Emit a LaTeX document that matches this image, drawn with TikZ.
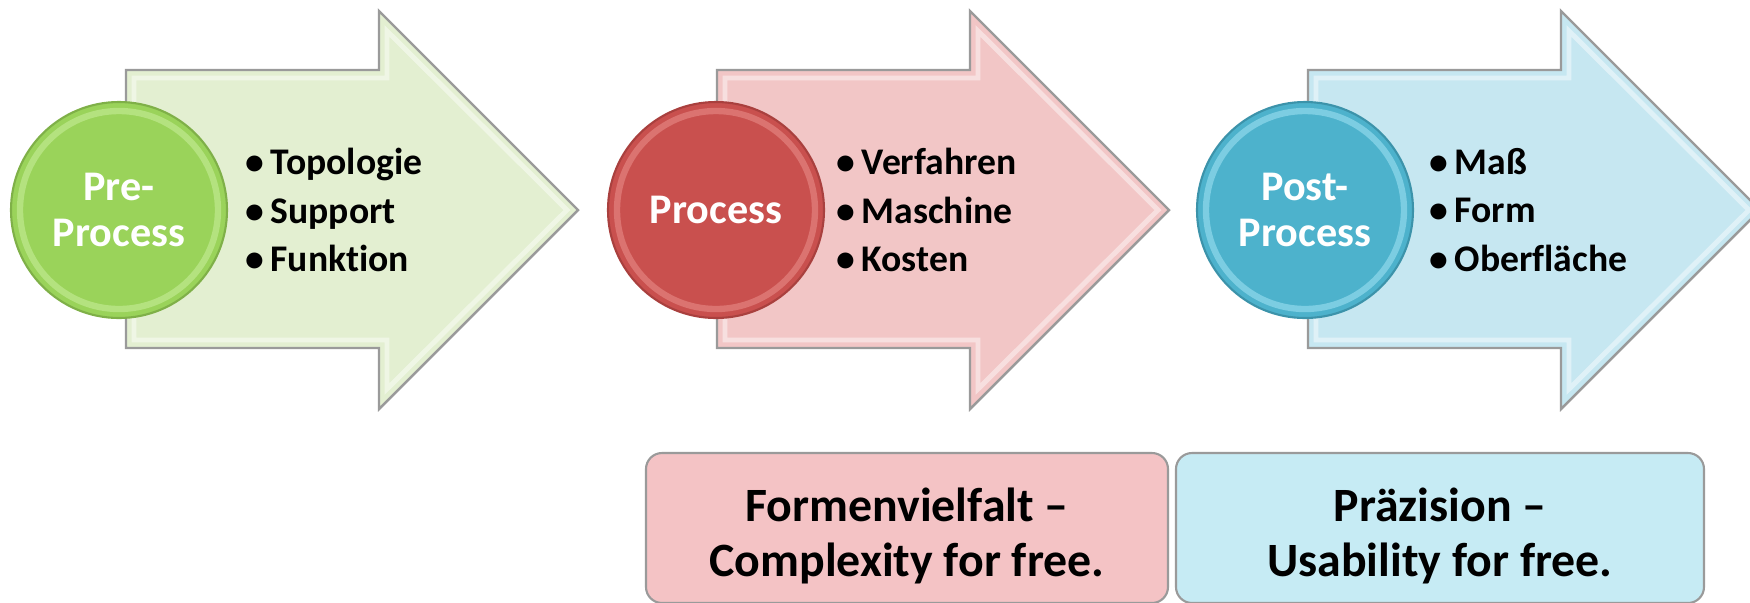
\documentclass[tikz,border=0pt]{standalone}
\usepackage{fontspec}
\setmainfont{Carlito}[Ligatures={NoCommon}]
\definecolor{gArrow}{HTML}{E3EFD1}
\definecolor{gCirc}{HTML}{9AD35A}
\definecolor{gRing}{HTML}{B4E27F}
\definecolor{gEdge}{HTML}{7FB048}
\definecolor{rArrow}{HTML}{F2C6C6}
\definecolor{rCirc}{HTML}{C9504E}
\definecolor{rRing}{HTML}{DB7370}
\definecolor{rEdge}{HTML}{A9403E}
\definecolor{bArrow}{HTML}{C6E7F1}
\definecolor{bCirc}{HTML}{4DB2CC}
\definecolor{bRing}{HTML}{7CCDE2}
\definecolor{bEdge}{HTML}{3C93AA}
\definecolor{pBox}{HTML}{F4C3C5}
\definecolor{cBox}{HTML}{C6EBF4}
\definecolor{edge}{HTML}{9A9A9A}
\tikzset{
  arrowbody/.style={draw=edge, line width=0.7pt},
  bevel/.style={draw=white, draw opacity=0.45, line width=1.4pt},
  stagecirc/.style={circle, minimum size=216*0.01cm, inner sep=0pt, line width=0.6pt},
  circtext/.style={text=white, font=\bfseries\fontsize{12}{13.2}\selectfont, align=center},
  bulletlist/.style={anchor=west, align=left, inner sep=0pt, font=\bfseries\fontsize{10.7}{13.7}\selectfont},
  claimbox/.style={draw=edge, line width=0.6pt, rounded corners=0.16cm, minimum width=522*0.01cm,
     minimum height=150*0.01cm},
  claimtext/.style={font=\bfseries\fontsize{13.6}{15.9}\selectfont, align=center}
}
\newcommand{\stagearrow}[2]{%
  \begin{scope}[shift={(#1,0)}]
    \fill[#2] (126,70) -- (379,70) -- (379,11) -- (578,210) -- (379,409) -- (379,348) -- (126,348) -- cycle;
    \draw[bevel] (134,78) -- (387,78) -- (387,31) -- (567,210) -- (387,389) -- (387,340) -- (134,340) -- cycle;
    \draw[arrowbody] (126,70) -- (379,70) -- (379,11) -- (578,210) -- (379,409) -- (379,348) -- (126,348) -- cycle;
  \end{scope}}
\newcommand{\stagering}[3]{%
  \draw[#3, line width=1.8pt] (#1,#2) circle (99*0.01cm);}
\begin{document}
\begin{tikzpicture}[x=0.01cm, y=-0.01cm]
\useasboundingbox (0,0) rectangle (1750,602);
\begin{scope}
\clip (0,0) rectangle (1750,602);
% arrows
\stagearrow{0}{gArrow}
\stagearrow{591}{rArrow}
\stagearrow{1182}{bArrow}
% circles
\node[stagecirc, fill=gCirc, draw=gEdge] (c1) at (119,210) {};
\stagering{119}{210}{gRing}
\node[circtext] (t1) at (c1.center) {Pre-\\Process};
\node[stagecirc, fill=rCirc, draw=rEdge] (c2) at (716,210) {};
\stagering{716}{210}{rRing}
\node[circtext] (t2) at (c2.center) {Process};
\node[stagecirc, fill=bCirc, draw=bEdge] (c3) at (1305,210) {};
\stagering{1305}{210}{bRing}
\node[circtext] (t3) at (c3.center) {Post-\\Process};
% bullet lists
\node[bulletlist] (l1) at (245,210) {\textbullet\,Topologie\\\textbullet\,Support\\\textbullet\,Funktion};
\node[bulletlist] (l2) at (836,210) {\textbullet\,Verfahren\\\textbullet\,Maschine\\\textbullet\,Kosten};
\node[bulletlist] (l3) at (1429,210) {\textbullet\,Maß\\\textbullet\,Form\\\textbullet\,Oberfläche};
% claim boxes
\node[claimbox, fill=pBox] (b1) at (907,528) {};
\node[claimtext] (bt1) at ([yshift=-0.08cm]b1.center) {Formenvielfalt --\\Complexity for free.};
\node[claimbox, fill=cBox, minimum width=528*0.01cm] (b2) at (1440,528) {};
\node[claimtext] (bt2) at ([yshift=-0.08cm]b2.center) {Präzision --\\Usability for free.};
\end{scope}
\end{tikzpicture}
\end{document}
